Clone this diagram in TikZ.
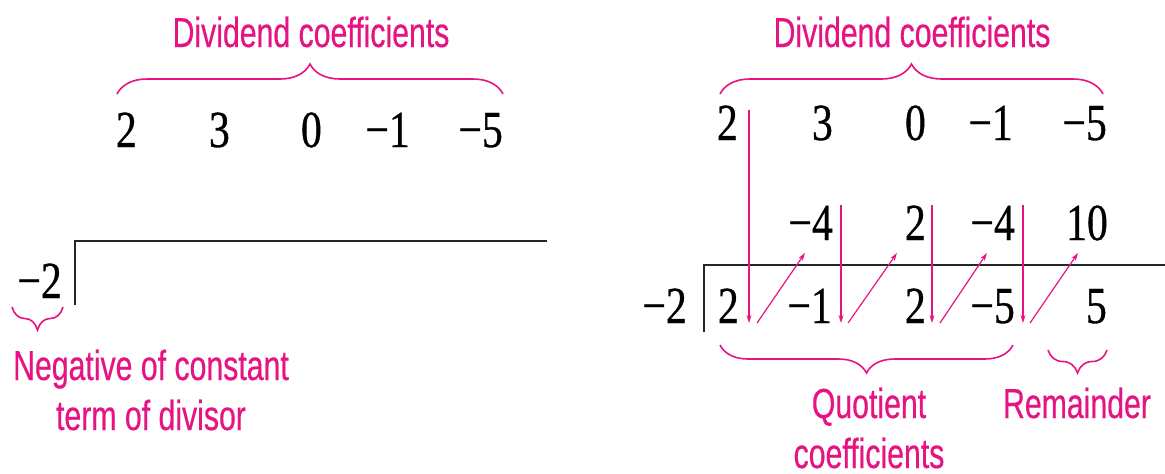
\documentclass[tikz,border=0pt]{standalone}
\usepackage{fontspec}
\usetikzlibrary{arrows.meta, decorations.pathreplacing, calc}
\newfontfamily\numfont[FakeStretch=0.8, FakeBold=0.6]{Liberation Serif}
\newfontfamily\lblfont[FakeStretch=0.72, FakeBold=0.4]{Liberation Sans}
\definecolor{synpink}{RGB}{230, 20, 130}

\begin{document}
\begin{tikzpicture}[
  x=1pt, y=-1pt,
  num/.style={font=\numfont\fontsize{52}{56}\selectfont, inner sep=0pt, anchor=base east},
  lbl/.style={font=\lblfont\fontsize{42}{50}\selectfont, text=synpink, align=center, inner sep=0pt, anchor=base},
  brc/.style={decorate, decoration={brace, amplitude=#1}, draw=synpink, line width=1.6pt},
  brc/.default=30pt,
  rule/.style={line width=2.8pt, draw=black!85},
  dn/.style={-{Stealth[length=8pt, width=5pt]}, synpink, line width=1.2pt}
]
  \useasboundingbox (0,0) rectangle (1165,474);

  % Left: the set-up
  \node[lbl] (ldiv) at (311,47) {Dividend coefficients};
  \draw[brc] (117,94) -- (503,94);
  \node[num] (l1) at (137,147) {2};
  \node[num] (l2) at (230,147) {3};
  \node[num] (l3) at (322,147) {0};
  \node[num] (l4) at (410,147) {−1};
  \node[num] (l5) at (503,147) {−5};

  \node[num] (ld) at (62,298) {−2};
  \draw[rule] (75,305) -- (75,241) -- (547,241);
  \draw[brc=23pt] (63,307) -- (12,307);
  \node[lbl] (neg) at (151,430) {Negative of constant\\term of divisor};

  % Right: the finished division
  \node[lbl] (rdiv) at (912,47) {Dividend coefficients};
  \draw[brc] (720,94) -- (1103,94);
  \node[num] (a1) at (738,140) {2};
  \node[num] (a2) at (833,140) {3};
  \node[num] (a3) at (926,140) {0};
  \node[num] (a4) at (1013,140) {−1};
  \node[num] (a5) at (1107,140) {−5};

  \node[num] (m2) at (833,240) {−4};
  \node[num] (m3) at (926,240) {2};
  \node[num] (m4) at (1015,240) {−4};
  \node[num] (m5) at (1108,240) {10};

  \node[num] (rd) at (687,323) {−2};
  \draw[rule] (704,332) -- (704,265) -- (1165,265);
  \node[num] (q1) at (739,323) {2};
  \node[num] (q2) at (832,323) {−1};
  \node[num] (q3) at (926,323) {2};
  \node[num] (q4) at (1015,323) {−5};
  \node[num] (r) at (1107,323) {5};

  % bring down, then multiply by -2
  \draw[dn] ($(a1.base east)+(11,-30)$) -- ($(a1.base east)+(11,183)$);
  \draw[dn] ($(m2.base east)+(8,-35)$) -- ($(m2.base east)+(8,83)$);
  \draw[dn] ($(m3.base east)+(6,-35)$) -- ($(m3.base east)+(6,83)$);
  \draw[dn] ($(m4.base east)+(8,-35)$) -- ($(m4.base east)+(8,83)$);
  \draw[dn] ($(q1.base east)+(18,0)$) -- ($(m2.base east)+(-28,13)$);
  \draw[dn] ($(q2.base east)+(16,0)$) -- ($(m3.base east)+(-29,13)$);
  \draw[dn] ($(q3.base east)+(14,0)$) -- ($(m4.base east)+(-28,13)$);
  \draw[dn] ($(q4.base east)+(15,0)$) -- ($(m5.base east)+(-30,13)$);

  \draw[brc=28pt] (1013,345) -- (720,345);
  \draw[brc=23pt] (1107,350) -- (1048,350);
  \node[lbl] (quot) at (869,468) {Quotient\\coefficients};
  \node[lbl] (rem) at (1077,418) {Remainder};
\end{tikzpicture}
\end{document}
